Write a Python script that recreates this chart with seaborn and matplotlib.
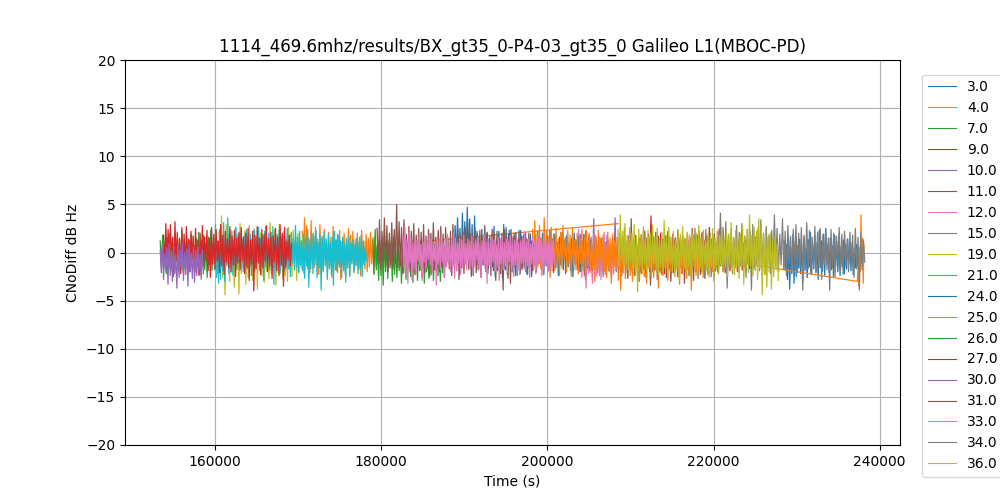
import numpy as np
import matplotlib
matplotlib.use("Agg")
import matplotlib.pyplot as plt
import seaborn as sns

# ---------------- data ----------------
title = "1114_469.6mhz/results/BX_gt35_0-P4-03_gt35_0 Galileo L1(MBOC-PD)"
labels = ["3.0", "4.0", "7.0", "9.0", "10.0", "11.0", "12.0", "15.0", "19.0",
          "21.0", "24.0", "25.0", "26.0", "27.0", "30.0", "31.0", "33.0", "34.0", "36.0"]

# time spans (s) of each series' segments
span_3_0 = [(228500, 237600)]
span_4_0 = [(170500, 179500), (208500, 208500)]
span_7_0 = [(153400, 160500)]
span_9_0 = [(211000, 225500)]
span_10_0 = [(203000, 212500)]
span_11_0 = [(209000, 222500)]
span_12_0 = [(203500, 208500)]
span_15_0 = [(217500, 220500)]
span_19_0 = [(160500, 170800)]
span_21_0 = [(159800, 178200)]
span_24_0 = [(188600, 206000)]
span_25_0 = [(198200, 222000), (237300, 238100)]
span_26_0 = [(179000, 187800)]
span_27_0 = [(153800, 169200)]
span_30_0 = [(153400, 158600)]
span_31_0 = [(179500, 198500)]
span_33_0 = [(182600, 200800)]
span_34_0 = [(220500, 238200)]
span_36_0 = [(208500, 227800)]

# CNoDiff values (dB Hz)
v_3_0 = [[1.2,-1.8, 0.8,-2.8, 1.5,-3.8, 0.6,-2.2, 1.9,-3.2, 1.1,-2.5, 0.7,-1.6, 1.4,-2.2, 0.9,-3.0, 1.6,-1.9,
          0.5,-2.6, 1.3,-1.5, 2.1,-2.3, 0.8,-1.7, 1.7,-2.1, 1.0,-2.8, 2.3,-1.6, 1.2,-2.0, 1.9,-2.4, 2.5,-1.3,
          0.9,-2.1, 1.5,-1.8, 0.7,-2.6, 1.8,-1.4, 1.1,-2.0, 1.6,-2.4, 0.6,-1.5, 1.3,-2.2, 0.9,-1.7, 1.4,-1.2,
          0.8,-1.9, 1.0,-2.3, 0.4,-1.6, 0.8,-1.4, 0.5,-1.1]]
v_4_0 = [[2.2,-1.3, 3.6,-0.8, 2.8,-1.7, 1.5,-2.1, 3.3,-1.0, 2.0,-1.6, 2.6,-0.9, 1.4,-2.3, 2.9,-1.2, 1.7,-1.8,
          2.4,-1.1, 1.2,-2.0, 2.1,-1.5, 1.6,-2.6, 2.7,-0.7, 1.3,-1.9, 1.9,-1.2, 2.3,-2.8, 1.1,-1.4, 2.0,-2.2,
          1.5,-1.6, 2.5,-2.5, 1.8,-1.0, 2.2,-2.1, 1.4,-1.3, 2.0,-1.8, 1.6,-2.4, 2.3,-1.1, 1.2,-1.7, 1.9,-2.0,
          1.5,-1.5, 2.1,-1.2, 1.3,-2.3, 1.7,-1.4, 0.7],
         [3.0]]
v_7_0 = [[1.2,-1.6, 1.8,-0.9, 0.9,-2.2, 1.5,-1.3, 2.0,-1.8, 1.1,-2.5, 1.7,-1.0, 0.8,-1.9, 1.4,-1.4, 2.2,-2.1,
          1.0,-1.2, 1.6,-2.4, 1.3,-1.7, 1.9,-0.8, 0.7,-2.0, 1.5,-1.5, 2.1,-2.3, 1.2,-1.1, 1.8,-1.8, 1.0,-2.6,
          1.6,-1.3, 2.3,-1.9, 1.1,-1.0, 1.7,-2.2, 0.9,-1.6]]
v_9_0 = [[1.2,-1.4, 1.8,-0.9, 2.4,-1.6, 1.5,-1.2, 1.9,-2.0, 3.8,-1.1, 1.6,-1.8, 2.1,-1.3, 1.3,-1.9, 2.0,-1.5,
          1.4,-2.2, 1.7,-1.0, 2.2,-1.7, 1.1,-1.4, 1.9,-2.1, 1.5,-1.2, 2.3,-1.8, 1.2,-1.6, 1.8,-1.1, 1.4,-2.0,
          2.0,-1.5, 1.6,-1.3, 2.5,-1.9, 1.3,-1.6, 1.8,-1.0, 1.5,-2.1, 2.1,-1.4, 1.2,-1.7, 1.7,-2.2, 2.6,-1.2,
          1.4,-1.8, 1.9,-1.5, 1.1,-2.0, 2.4,-1.3, 1.6,-1.7, 1.3,-2.1, 1.8,-1.4, 1.0,-1.9, 1.5,-1.1, 1.2,-1.6,
          1.7,-2.0, 1.1,-1.3, 1.4,-1.8, 0.9,-1.5, 1.3,-1.2, 0.8,-1.7, 1.2,-1.0, 0.7,-1.4, 1.0,-1.2, 0.6,-0.9]]
v_10_0 = [[0.8,-1.8, 1.4,-1.2, 0.6,-2.0, 1.9,-1.5, 1.1,-2.4, 2.3,-1.0, 0.9,-1.9, 1.6,-2.6, 3.5,-1.3, 1.2,-2.1,
           0.7,-1.6, 1.5,-2.5, 1.0,-1.1, 1.8,-1.9, 0.5,-2.2, 1.3,-1.4, 3.6,-2.0, 0.8,-1.7, 1.4,-2.4, 0.6,-1.2,
           1.1,-2.1, 1.7,-1.5, 0.4,-2.3, 1.2,-1.8, 0.9,-1.0, 1.5,-2.0, 0.6,-1.6, 1.0,-2.2, 0.3,-1.3, 0.7,-0.9]]
v_11_0 = [[1.2,-2.1, 2.5,-1.3, 0.8,-2.7, 1.6,-1.6, 3.5,-1.9, 1.0,-2.4, 1.8,-1.5, 0.6,-3.0, 1.4,-2.2, 0.9,-1.7,
           2.2,-2.6, 0.7,-1.4, 1.3,-3.4, 2.9,-2.0, 0.5,-1.8, 1.1,-2.8, 1.7,-1.5, 0.8,-2.3, 1.4,-1.9, 0.4,-2.6,
           1.0,-1.6, 1.6,-3.0, 0.6,-2.1, 1.3,-1.7, 0.9,-2.5, 1.5,-1.4, 0.3,-2.2, 1.1,-3.2, 0.7,-1.8, 1.2,-2.4,
           0.5,-1.5, 0.9,-2.9, 1.4,-2.0, 0.6,-1.6, 1.0,-2.3, 0.3,-1.9, 0.8,-2.7, 0.4,-1.4, 0.9,-2.1, 0.2,-1.7,
           0.6,-2.5, 0.1,-1.6, 0.7,-2.2, 0.3,-1.4, 0.5,-2.0, -0.1,-1.3, 0.4,-1.8, 0.0,-1.1, 0.2,-1.5, -0.3,-1.0]]
v_12_0 = [[1.2,-1.8, 2.4,-1.0, 1.5,-2.6, 0.9,-1.5, 1.8,-3.7, 1.1,-2.2, 2.0,-1.3, 0.7,-3.2, 1.4,-1.9, 1.8,-2.5,
           0.8,-1.4, 1.6,-2.8, 1.0,-1.7, 2.1,-2.3, 0.6,-1.2, 1.3,-2.0, 0.9,-2.7, 1.5,-1.5, 0.5,-1.9, 0.9,-1.1]]
v_15_0 = [[1.8,-1.4, 2.5,-2.0, 1.3,-2.7, 2.2,-1.6, 1.9,-1.1, 1.0,-2.3, 2.4,-1.8, 1.5,-1.2, 2.0,-2.5, 1.2,-1.6,
           1.7,-1.9, 0.6,-1.2]]
v_19_0 = [[2.1,-1.8, 3.8,-2.6, 1.5,-4.4, 2.9,-1.2, 1.8,-3.0, 2.4,-2.1, 1.2,-3.6, 2.6,-1.5, 1.9,-4.3, 3.0,-2.2,
           1.4,-1.7, 2.2,-3.3, 1.7,-2.6, 2.8,-1.4, 1.3,-2.9, 2.5,-2.0, 1.6,-3.8, 2.3,-1.6, 2.0,-2.4, 1.1,-3.1,
           2.7,-1.9, 1.5,-2.7, 3.1,-2.2, 1.8,-1.5, 2.4,-3.4, 1.2,-2.1, 2.9,-1.8, 1.7,-2.8, 2.2,-2.4, 1.4,-3.0,
           2.6,-1.7, 1.9,-2.5, 2.3,-1.3, 1.6,-2.9, 2.0,-2.0, 1.3,-1.6, 1.8,-2.2, 0.5]]
v_21_0 = [[1.5,-1.8, 2.9,-2.6, 1.2,-3.2, 2.4,-2.8, 1.8,-1.9, 3.1,-3.0, 1.4,-1.4, 3.6,-2.2, 1.9,-1.5, 2.2,-2.4,
           1.3,-1.2, 2.6,-1.8, 1.6,-1.0, 2.0,-1.6, 1.1,-2.0, 1.7,-1.3, 2.4,-1.7, 1.3,-1.1, 1.9,-2.4, 1.5,-1.4,
           2.3,-1.6, 1.2,-0.9, 2.6,-1.9, 1.4,-1.2, 1.8,-2.9, 2.2,-1.5, 1.0,-1.1, 2.0,-1.8, 1.6,-1.3, 2.7,-3.3,
           1.3,-1.6, 1.9,-1.0, 2.3,-2.2, 1.5,-1.4, 1.8,-1.9, 1.1,-1.2, 2.5,-1.7, 1.7,-2.5, 2.1,-1.1, 1.4,-1.8,
           2.8,-1.5, 1.6,-2.1, 2.2,-1.3, 1.2,-1.9, 1.9,-2.7, 1.5,-1.4, 2.4,-3.6, 1.3,-1.7, 2.0,-2.2, 1.7,-1.3,
           2.3,-2.6, 1.1,-1.6, 1.8,-3.9, 1.5,-2.0, 2.1,-1.4, 1.4,-2.8, 1.9,-1.7, 1.0,-2.3, 1.6,-3.4, 2.2,-1.8,
           1.3,-2.1, 1.8,-1.5, 1.2,-2.6, 1.6,-1.9, 0.9,-3.1, 1.4,-1.6, 1.7,-2.4, 1.0,-1.2, 1.3,-2.0, 0.8,-1.4,
           1.5,-2.2, 1.1,-1.7, 1.8,-2.5, 1.2,-1.3, 0.6,-0.8]]
v_24_0 = [[1.5,-1.1, 2.8,-0.4, 3.6,-0.8, 2.5,-1.5, 4.1,-0.6, 3.2,-1.2, 4.7,-0.9, 3.5,-1.6, 2.9,-2.4, 3.8,-1.0,
           2.2,-1.8, 1.6,-2.0, 2.4,-1.3, 1.2,-1.6, 2.0,-2.2, 1.4,-1.1, 1.8,-1.5, 2.7,-2.5, 1.3,-1.9, 2.2,-1.0,
           1.5,-2.6, 2.9,-1.7, 2.6,-2.3, 1.9,-1.2, 2.4,-2.0, 1.6,-1.5, 2.1,-2.4, 1.3,-1.1, 2.3,-1.8, 1.7,-1.4,
           2.0,-2.2, 1.4,-1.6, 1.9,-2.5, 1.1,-1.3, 1.8,-2.0, 2.2,-1.2, 1.5,-1.8, 2.0,-2.3, 1.2,-1.4, 1.7,-1.9,
           2.3,-1.1, 1.4,-2.1, 1.9,-1.6, 1.1,-2.4, 1.6,-1.3, 2.1,-1.8, 1.3,-2.2, 1.8,-1.5, 1.0,-1.9, 1.5,-2.5,
           2.0,-1.2, 1.2,-1.7, 1.7,-2.0, 1.4,-1.4, 1.9,-2.3, 1.1,-1.6, 1.6,-1.1, 1.3,-1.8, 0.9,-1.3, 0.6,-1.0]]
v_25_0 = [[2.4,-1.4, 3.3,-2.1, 2.0,-0.9, 2.8,-1.6, 1.5,-2.3, 3.6,-1.0, 2.2,-1.8, 1.7,-2.6, 2.6,-1.1, 1.9,-1.9,
           2.5,-1.3, 1.4,-2.4, 2.1,-1.6, 2.8,-0.8, 1.6,-2.0, 2.3,-1.2, 1.8,-2.5, 2.5,-1.5, 1.3,-1.8, 2.0,-2.2,
           1.7,-1.1, 2.4,-1.9, 1.5,-2.8, 2.2,-1.4, 1.9,-2.1, 1.2,-1.7, 2.0,-3.0, 1.6,-1.6, 2.3,-2.4, 1.4,-1.3,
           1.8,-2.0, 1.1,-2.6, 2.1,-1.8, 1.5,-3.2, 1.9,-2.2, 1.2,-1.5, 1.6,-2.9, 2.0,-3.9, 1.3,-2.1, 1.7,-2.7,
           1.0,-1.8, 1.5,-2.4, 0.8,-3.0, 1.3,-1.6, 0.9,-2.2, 1.2,-2.8, 0.6,-1.9, 1.1,-2.5, 0.7,-3.2, 1.4,-1.7,
           0.9,-2.3, 0.5,-2.6, 1.0,-1.5, 0.6,-3.7, 1.2,-2.1, 0.8,-2.4, 0.4,-1.8, 0.9,-2.9, 1.3,-2.0, 0.7,-1.6,
           1.1,-2.5, 0.5,-1.9, 1.0,-3.3, 0.6,-2.2, 1.4,-1.7, 0.8,-2.7, 0.3,-2.0, 0.9,-3.9, 0.5,-1.5, 1.2,-2.4,
           0.7,-2.1, 0.2,-1.7, 0.8,-2.6, 0.4,-1.9, 0.9,-2.3, 0.3,-1.4, 0.6,-2.0, 0.1,-1.6, 0.5,-1.2, -0.2,-1.0,
           0.3,-1.3, -0.1,-0.9, 0.2,-1.1, -0.3,-0.8, -0.9],
          [-3.0, -1.5, -3.5, 0.5, -2.0, 3.9, -1.0, 1.5, -3.2, 0.8]]
v_26_0 = [[1.5,-2.2, 2.4,-1.8, 0.8,-2.9, 1.3,-2.4, 0.6,-3.4, 1.8,-2.0, 0.9,-2.7, 1.2,-1.6, 0.4,-3.0, 1.6,-2.3,
           0.7,-2.6, 1.1,-1.9, 0.3,-3.2, 1.4,-2.1, 0.8,-2.8, 1.0,-1.7, 0.5,-2.5, 1.3,-3.1, 0.6,-2.2, 0.9,-2.9,
           0.2,-1.8, 1.2,-2.6, 0.7,-3.2, 1.0,-2.0, 0.4,-2.7, 0.8,-2.3, 0.3,-2.9, 0.9,-1.9, 0.5,-2.4, 0.6,-3.0,
           0.1,-2.1, 0.7,-1.5, -0.2]]
v_27_0 = [[1.8,-1.2, 3.0,-0.8, 2.4,-1.5, 2.9,-0.6, 1.6,-1.9, 3.2,-1.0, 2.1,-1.4, 1.5,-2.2, 2.6,-0.9, 1.9,-1.6,
           2.7,-1.1, 1.4,-2.0, 2.2,-0.7, 1.7,-1.8, 2.5,-1.3, 1.3,-2.4, 2.0,-1.0, 2.8,-1.5, 1.6,-0.8, 2.3,-1.9,
           1.5,-2.6, 2.6,-1.2, 1.9,-1.7, 2.4,-0.9, 1.2,-2.1, 2.9,-1.4, 1.8,-2.3, 2.2,-1.0, 1.4,-1.6, 2.7,-2.0,
           1.7,-1.3, 2.3,-2.5, 1.5,-1.1, 2.1,-1.8, 2.6,-0.8, 1.6,-2.2, 2.0,-1.5, 2.5,-2.9, 1.3,-1.2, 2.2,-4.0,
           1.8,-1.7, 2.7,-1.1, 1.5,-2.3, 2.4,-1.6, 1.9,-0.9, 2.8,-2.0, 1.4,-1.4, 2.1,-2.7, 1.7,-1.0, 2.5,-1.9,
           1.6,-2.4, 2.9,-1.3, 2.0,-3.5, 2.6,-1.6, 1.2,-0.8, 1.8,-1.4, 0.9]]
v_30_0 = [[0.2,-2.1, 0.8,-2.8, -0.2,-1.9, 0.5,-3.3, 0.9,-2.4, 0.1,-3.0, 0.6,-2.2, -0.3,-3.7, 0.7,-2.6, 0.3,-1.8,
           1.0,-2.9, 0.0,-2.3, 0.4,-3.5, 0.8,-2.0, -0.1,-2.7, 0.5,-3.1, 0.2,-2.4, 0.6,-1.9, -0.2,-2.8, 0.3,-2.2]]
v_31_0 = [[2.5,-1.2, 3.4,-1.8, 2.2,-1.0, 3.6,-1.5, 2.8,-2.0, 2.0,-1.3, 3.1,-1.7, 2.4,-1.1, 5.0,-1.6, 3.2,-1.4,
           2.6,-2.2, 3.4,-1.2, 1.9,-1.8, 2.7,-2.0, 2.2,-1.5, 3.0,-2.3, 1.8,-1.1, 2.5,-1.9, 2.1,-1.4, 2.9,-2.1,
           1.7,-1.6, 2.4,-2.5, 2.0,-1.3, 3.1,-1.8, 1.6,-1.2, 2.3,-2.0, 2.7,-1.5, 1.9,-2.6, 2.6,-1.1, 1.5,-1.7,
           2.2,-2.4, 2.9,-1.4, 1.8,-1.9, 2.4,-2.8, 1.6,-1.6, 2.1,-2.2, 2.6,-1.3, 3.3,-1.8, 2.0,-2.5, 1.7,-1.5,
           2.5,-2.1, 1.9,-1.7, 2.3,-2.6, 1.5,-1.2, 2.8,-2.0, 2.1,-1.6, 1.7,-2.4, 2.4,-1.9, 1.9,-2.9, 2.2,-1.4,
           1.4,-2.2, 2.0,-3.9, 2.4,-1.8, 1.6,-2.7, 2.3,-3.2, 1.8,-1.5, 2.0,-2.4, 1.5,-1.9, 2.3,-2.2, 1.7,-1.6,
           1.9,-1.8, 1.4,-2.3, 2.0,-1.4, 1.2,-1.9, 0.9,-0.9]]
v_33_0 = [[1.8,-1.5, 2.6,-2.4, 1.2,-3.2, 2.1,-1.1, 1.4,-2.8, 1.0,-1.7, 1.6,-2.2, 1.3,-0.9, 1.7,-1.4, 0.8,-2.9,
           1.1,-1.0, 1.7,-1.6, 1.2,-0.7, 2.0,-1.3, 1.5,-2.1, 1.1,-0.8, 1.1,-3.4, 1.6,-1.2, 1.3,-1.8, 2.3,-1.0,
           1.0,-2.5, 1.4,-1.5, 1.9,-0.9, 0.8,-2.0, 1.2,-1.4, 2.1,-2.6, 1.5,-1.9, 1.0,-1.1, 1.5,-2.3, 1.3,-1.6,
           1.8,-1.2, 0.9,-1.8, 1.4,-1.0, 1.2,-1.5, 1.7,-2.2, 1.0,-1.3, 1.3,-0.8, 1.6,-1.7, 0.9,-2.4, 1.2,-1.1,
           1.9,-1.6, 1.1,-3.2, 1.4,-1.3, 1.0,-1.9, 1.6,-1.0, 1.3,-2.0, 0.8,-1.5, 1.5,-2.9, 1.2,-1.2, 1.7,-1.8,
           1.0,-1.4, 1.4,-2.1, 1.1,-1.0, 1.8,-1.7, 0.9,-2.5, 1.3,-1.3, 1.6,-1.9, 1.0,-2.3, 1.2,-1.1, 1.5,-1.6,
           2.2,-2.0, 1.1,-1.4, 1.4,-2.6, 0.9,-1.2, 1.6,-1.8, 1.2,-2.2, 1.0,-1.5, 1.7,-1.0, 1.3,-2.4, 0.8,-1.7,
           1.5,-1.3, 1.1,-2.0, 1.4,-1.6, 1.0,-1.9, 1.2,-1.2]]
v_34_0 = [[2.0,-1.2, 4.1,-0.8, 2.6,-1.6, 3.2,-3.7, 1.8,-1.5, 2.5,-2.2, 1.5,-1.1, 2.8,-2.0, 2.1,-1.4, 3.0,-1.8,
           1.7,-2.6, 2.4,-1.3, 2.2,-3.9, 2.9,-1.7, 1.6,-1.2, 2.6,-1.9, 3.4,-1.5, 2.0,-2.3, 2.7,-1.1, 1.8,-2.2,
           2.3,-1.6, 3.9,-1.4, 2.5,-2.0, 1.9,-1.3, 3.5,-1.8, 2.2,-2.4, 2.8,-1.2, 1.7,-1.9, 2.4,-1.5, 2.9,-2.1,
           2.0,-1.6, 2.6,-3.9, 1.8,-1.3, 3.1,-1.7, 2.3,-2.2, 1.6,-1.4, 2.7,-2.0, 2.1,-1.5, 2.5,-2.8, 1.9,-1.2,
           2.3,-1.8, 1.5,-3.9, 2.4,-1.6, 2.0,-2.5, 1.7,-1.1, 2.6,-1.9, 1.9,-2.3, 2.2,-1.4, 1.4,-2.0, 2.1,-1.5,
           1.8,-2.6, 2.5,-1.7, 1.6,-3.9, 2.0,-1.8, 1.3,-1.0]]
v_36_0 = [[2.4,-1.5, 3.9,-0.8, 2.2,-2.1, 3.0,-1.2, 1.8,-1.8, 2.6,-1.0, 2.0,-1.6, 2.9,-2.4, 1.6,-4.1, 2.4,-1.3,
           1.9,-2.2, 2.7,-1.1, 1.5,-1.9, 2.3,-1.5, 2.0,-2.6, 2.8,-1.2, 1.7,-1.8, 2.5,-2.3, 1.4,-1.4, 2.1,-2.0,
           3.3,-1.6, 1.8,-2.4, 2.6,-1.1, 1.6,-1.9, 2.2,-2.2, 1.3,-1.5, 2.4,-2.8, 1.9,-1.3, 2.7,-1.7, 1.5,-2.1,
           2.1,-1.4, 1.8,-2.5, 2.5,-1.0, 1.4,-1.8, 2.0,-2.3, 2.8,-1.6, 1.6,-2.0, 2.3,-1.2, 1.2,-1.9, 2.0,-2.6,
           1.7,-1.5, 2.5,-3.0, 1.5,-1.7, 2.2,-2.2, 1.8,-1.3, 2.6,-2.0, 1.4,-1.6, 2.1,-2.5, 1.9,-1.4, 3.1,-1.9,
           1.6,-2.3, 2.3,-1.5, 1.3,-2.7, 2.0,-1.8, 2.7,-3.3, 1.7,-1.6, 2.4,-2.1, 3.9,-1.4, 1.8,-2.4, 2.6,-1.9,
           2.2,-2.8, 3.5,-1.7, 2.8,-4.4, 1.9,-2.2, 2.4,-3.6, 1.5,-2.0, 2.0,-3.8, 1.2,-2.5, 1.6,-1.8, 0.9,-2.9]]

spans = [span_3_0, span_4_0, span_7_0, span_9_0, span_10_0, span_11_0, span_12_0, span_15_0,
         span_19_0, span_21_0, span_24_0, span_25_0, span_26_0, span_27_0, span_30_0, span_31_0,
         span_33_0, span_34_0, span_36_0]
values = [v_3_0, v_4_0, v_7_0, v_9_0, v_10_0, v_11_0, v_12_0, v_15_0, v_19_0, v_21_0, v_24_0,
          v_25_0, v_26_0, v_27_0, v_30_0, v_31_0, v_33_0, v_34_0, v_36_0]

y_ticks = [-20, -15, -10, -5, 0, 5, 10, 15, 20]
x_ticks = [160000, 180000, 200000, 220000, 240000]

# ---------------- plot ----------------
fig, ax = plt.subplots(figsize=(10, 5), dpi=100)
palette = sns.color_palette("tab10", len(labels))

for lab, sp, vals, col in zip(labels, spans, values, palette):
    t = np.concatenate([np.linspace(a, b, len(v)) for (a, b), v in zip(sp, vals)])
    y = np.concatenate([np.asarray(v, dtype=float) for v in vals])
    sns.lineplot(x=t, y=y, ax=ax, color=col, linewidth=0.9, label=lab,
                 estimator=None, sort=False)

ax.set_ylim(-20, 20)
ax.set_yticks(y_ticks)
ax.set_xticks(x_ticks)
ax.ticklabel_format(axis="x", style="plain", useOffset=False)
ax.grid(True)
ax.set_title(title)
ax.set_xlabel("Time (s)")
ax.set_ylabel("CNoDiff dB Hz")
leg = ax.legend(loc="upper left", bbox_to_anchor=(1.02, 0.98))
for h in leg.get_lines():
    h.set_linewidth(0.8)

fig.savefig("out.png", dpi=100)
